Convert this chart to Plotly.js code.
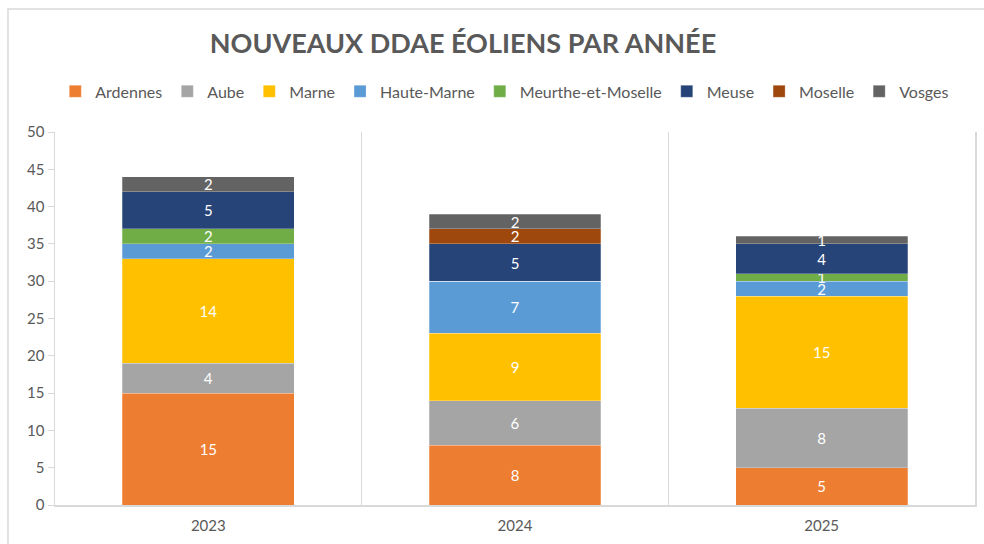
<!DOCTYPE html>
<html><head><meta charset="utf-8">
<script src="https://cdn.plot.ly/plotly-3.0.1.min.js"></script>
<style>html,body{margin:0;padding:0;background:#fff}#chart{width:984px;height:544px}</style>
</head><body><div id="chart"></div>
<script>
const years = ['2023', '2024', '2025'];
const departements = ['Ardennes', 'Aube', 'Marne', 'Haute-Marne', 'Meurthe-et-Moselle', 'Meuse', 'Moselle', 'Vosges'];
const ardennes = [15, 8, 5];
const aube = [4, 6, 8];
const marne = [14, 9, 15];
const hauteMarne = [2, 7, 2];
const meurthe = [2, 0, 1];
const meuse = [5, 5, 4];
const moselle = [0, 2, 0];
const vosges = [2, 2, 1];
const colors = ['#ED7D31', '#A5A5A5', '#FFC000', '#5B9BD5', '#70AD47', '#264478', '#9E480E', '#636363'];
const series = [ardennes, aube, marne, hauteMarne, meurthe, meuse, moselle, vosges];

const FONT = 'Lato, "Liberation Sans", sans-serif';
const traces = series.map((vals, i) => ({
  type: 'bar', name: departements[i], x: years, y: vals,
  marker: {color: colors[i], line: {color: 'rgba(255,255,255,0.5)', width: 0.5}},
  text: vals.map(v => v === 0 ? '' : String(v)),
  textposition: 'inside', insidetextanchor: 'middle', textangle: 0,
  textfont: {color: '#ffffff', size: 15, family: FONT},
  hoverinfo: 'none'
}));

const layout = {
  width: 984, height: 544,
  margin: {l: 55, r: 9, t: 132, b: 39},
  paper_bgcolor: '#fff', plot_bgcolor: '#fff',
  barmode: 'stack', bargap: 0.44,
  uniformtext: {mode: 'show', minsize: 15},
  font: {family: FONT, color: '#595959'},
  title: {text: '<b>NOUVEAUX DDAE ÉOLIENS PAR ANNÉE</b>', x: 0.4705, xref: 'container', xanchor: 'center', y: 0.92, yref: 'container', yanchor: 'middle', font: {size: 27, color: '#595959', family: FONT}},
  showlegend: true,
  legend: {orientation: 'h', xref: 'container', x: 0.513, xanchor: 'center', yref: 'container', y: 0.832, yanchor: 'middle', font: {size: 16, color: '#595959', family: FONT}, traceorder: 'normal', itemwidth: 30},
  xaxis: {type: 'category', tickson: 'boundaries', showgrid: true, gridcolor: '#d9d9d9', gridwidth: 1, showline: true, linecolor: '#d9d9d9', linewidth: 1.5, ticks: '', ticklabelstandoff: 6, tickfont: {size: 15, color: '#595959'}, fixedrange: true},
  yaxis: {range: [0, 50], dtick: 5, showgrid: false, zeroline: false, showline: true, mirror: true, linecolor: '#d9d9d9', linewidth: 1.5, ticks: 'outside', ticklen: 6, tickcolor: '#d9d9d9', tickfont: {size: 15, color: '#595959'}, fixedrange: true},
  shapes: [{type: 'rect', xref: 'paper', yref: 'paper', x0: -0.0511, x1: 1.05, y0: -0.3, y1: 1.3298, line: {color: '#d9d9d9', width: 1.5}, layer: 'below'}]
};
Plotly.newPlot('chart', traces, layout, {displayModeBar: false, staticPlot: true});
</script></body></html>
